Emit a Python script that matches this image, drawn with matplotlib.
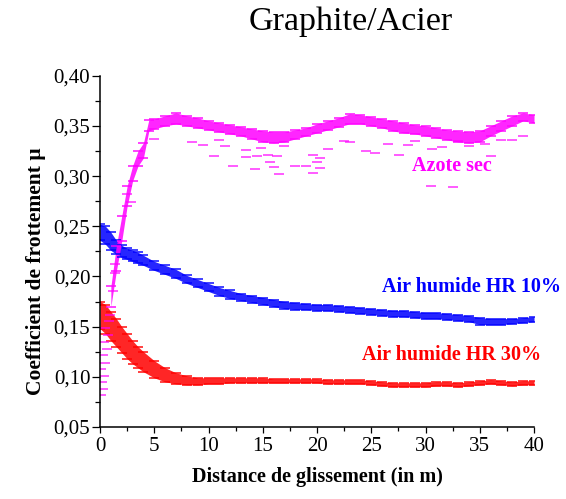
import numpy as np
import matplotlib
matplotlib.use("Agg")
import matplotlib.pyplot as plt
from matplotlib.ticker import MultipleLocator

plt.rcParams['font.family'] = ['Liberation Serif', 'DejaVu Serif']

# Distance de glissement (m) pour les courbes bleue et rouge
dist = [0, 0.5, 1, 1.5, 2, 2.5, 3, 3.5, 4, 5, 6, 7, 8, 9, 10, 11, 12, 13, 14, 15,
        16, 17, 18, 19, 20, 21, 22, 23, 24, 25, 26, 27, 28, 29, 30, 31, 32, 33,
        34, 35, 36, 37, 38, 39, 40]

# Air humide HR 10% : bornes basse / haute de la bande de mesure
hr10_bas = [0.236, 0.232, 0.226, 0.222, 0.219, 0.217, 0.215, 0.213, 0.211, 0.206,
            0.202, 0.198, 0.193, 0.189, 0.185, 0.181, 0.178, 0.176, 0.174, 0.172,
            0.170, 0.168, 0.167, 0.167, 0.166, 0.166, 0.165, 0.164, 0.163, 0.162,
            0.161, 0.160, 0.160, 0.159, 0.158, 0.158, 0.157, 0.156, 0.155, 0.152,
            0.152, 0.152, 0.153, 0.154, 0.155]
hr10_haut = [0.252, 0.250, 0.244, 0.236, 0.231, 0.228, 0.226, 0.224, 0.221, 0.215,
             0.211, 0.207, 0.201, 0.197, 0.193, 0.189, 0.186, 0.183, 0.181, 0.179,
             0.177, 0.175, 0.174, 0.173, 0.172, 0.172, 0.171, 0.170, 0.169, 0.168,
             0.167, 0.166, 0.166, 0.165, 0.164, 0.164, 0.163, 0.162, 0.161, 0.159,
             0.158, 0.158, 0.158, 0.159, 0.160]

# Air humide HR 30%
hr30_bas = [0.148, 0.143, 0.136, 0.130, 0.124, 0.118, 0.113, 0.109, 0.105, 0.099,
            0.095, 0.093, 0.092, 0.092, 0.093, 0.093, 0.094, 0.094, 0.094, 0.094,
            0.094, 0.094, 0.094, 0.094, 0.094, 0.093, 0.093, 0.093, 0.093, 0.092,
            0.091, 0.090, 0.090, 0.090, 0.090, 0.091, 0.091, 0.090, 0.091, 0.092,
            0.093, 0.092, 0.091, 0.092, 0.092]
hr30_haut = [0.175, 0.172, 0.165, 0.158, 0.150, 0.143, 0.136, 0.130, 0.125, 0.116,
             0.109, 0.104, 0.101, 0.099, 0.099, 0.099, 0.099, 0.099, 0.099, 0.099,
             0.098, 0.098, 0.098, 0.098, 0.098, 0.097, 0.097, 0.097, 0.097, 0.096,
             0.095, 0.094, 0.094, 0.094, 0.094, 0.095, 0.095, 0.094, 0.095, 0.096,
             0.097, 0.096, 0.095, 0.096, 0.096]

# Azote sec : bande principale
dist_az = [1, 1.5, 2, 2.5, 3, 3.5, 4, 4.5, 5, 6, 7, 8, 9, 10, 11, 12, 13, 14, 15,
           16, 17, 18, 19, 20, 21, 22, 23, 24, 25, 26, 27, 28, 29, 30, 31, 32, 33,
           34, 35, 36, 37, 38, 39, 40]
azote_bas = [0.170, 0.205, 0.235, 0.270, 0.295, 0.310, 0.318, 0.345, 0.347, 0.350,
             0.352, 0.350, 0.348, 0.346, 0.344, 0.342, 0.340, 0.337, 0.334, 0.333,
             0.334, 0.337, 0.340, 0.343, 0.346, 0.349, 0.352, 0.352, 0.350, 0.348,
             0.345, 0.343, 0.342, 0.340, 0.338, 0.336, 0.334, 0.333, 0.334, 0.340,
             0.345, 0.350, 0.355, 0.353]
azote_haut = [0.190, 0.230, 0.260, 0.290, 0.310, 0.325, 0.333, 0.356, 0.357, 0.360,
              0.363, 0.360, 0.358, 0.355, 0.353, 0.351, 0.349, 0.347, 0.345, 0.344,
              0.344, 0.346, 0.348, 0.352, 0.355, 0.358, 0.362, 0.361, 0.359, 0.357,
              0.355, 0.353, 0.351, 0.350, 0.348, 0.346, 0.345, 0.344, 0.345, 0.350,
              0.355, 0.360, 0.363, 0.361]

# Azote sec : points isoles (debut d'essai et valeurs basses)
azote_pts_x = [0.1, 0.3, 0.2, 0.4, 0.1, 0.5, 0.3, 0.6, 0.4, 0.7, 0.5, 0.8, 0.9,
               1.2, 1.4, 1.4, 2.5, 2.9, 5.0, 8.5, 9.5, 10.5, 11.0, 11.5, 12.3,
               13.5, 13.5, 14.3, 14.5, 14.8, 15.5, 15.7, 16.0, 16.3, 16.5, 17.0,
               18.0, 19.0, 19.6, 19.6, 20.0, 20.3, 20.3, 21.0, 22.5, 23.0, 24.5,
               25.3, 26.5, 27.6, 28.4, 29.0, 30.5, 30.6, 31.5, 32.5, 33.0, 34.0,
               35.5, 36.0, 37.0, 38.0, 39.0]
azote_pts_y = [0.082, 0.088, 0.095, 0.101, 0.108, 0.114, 0.122, 0.128, 0.135,
               0.142, 0.149, 0.156, 0.162, 0.185, 0.212, 0.203, 0.282, 0.274,
               0.337, 0.334, 0.331, 0.320, 0.336, 0.330, 0.310, 0.326, 0.319,
               0.307, 0.320, 0.328, 0.321, 0.314, 0.309, 0.320, 0.302, 0.330,
               0.310, 0.310, 0.303, 0.321, 0.314, 0.308, 0.318, 0.327, 0.335,
               0.334, 0.325, 0.323, 0.332, 0.321, 0.331, 0.335, 0.290, 0.327,
               0.329, 0.289, 0.335, 0.330, 0.332, 0.320, 0.336, 0.336, 0.340]

yticks = [0.05, 0.10, 0.15, 0.20, 0.25, 0.30, 0.35, 0.40]
ytick_labels = ['0,05', '0,10', '0,15', '0,20', '0,25', '0,30', '0,35', '0,40']
xticks = [0, 5, 10, 15, 20, 25, 30, 35, 40]

BLEU = '#0000ff'
ROUGE = '#ff0000'
MAGENTA = '#ff00ff'

fig = plt.figure(figsize=(5.66, 4.99), dpi=100)
ax = fig.add_axes([0.1767, 0.1443, 0.7668, 0.704])


def bande(x, bas, haut, couleur):
    # bande pleine + petits tirets sur les bords
    ax.fill_between(x, bas, haut, color=couleur, alpha=0.85, lw=0)
    for y in (bas, haut):
        ax.plot(x, y, ls='none', marker='_', ms=7, mew=1.3, color=couleur, alpha=0.8)


bande(dist, hr10_bas, hr10_haut, BLEU)
bande(dist, hr30_bas, hr30_haut, ROUGE)
bande(dist_az, azote_bas, azote_haut, MAGENTA)
ax.plot(azote_pts_x, azote_pts_y, ls='none', marker='_', ms=7, mew=1.2,
        color=MAGENTA, alpha=0.75)

ax.set_xlim(0, 40)
ax.set_ylim(0.05, 0.40)
ax.set_xticks(xticks)
ax.set_yticks(yticks)
ax.set_yticklabels(ytick_labels)
ax.xaxis.set_minor_locator(MultipleLocator(2.5))
ax.yaxis.set_minor_locator(MultipleLocator(0.025))

for s in ('top', 'right'):
    ax.spines[s].set_visible(False)
for s in ('left', 'bottom'):
    ax.spines[s].set_linewidth(1.1)

ax.tick_params(axis='x', which='major', direction='out', length=4.5, width=0.9,
               labelsize=15, pad=3)
ax.tick_params(axis='x', which='minor', direction='out', length=3, width=0.9)
ax.tick_params(axis='y', which='major', direction='out', length=5.5, width=0.9,
               labelsize=15, pad=1.5)
ax.tick_params(axis='y', which='minor', direction='out', length=3.5, width=0.9)

ax.set_xlabel('Distance de glissement (in m)', fontsize=14.5, fontweight='bold')
ax.set_ylabel('Coefficient de frottement µ', fontsize=15.5, fontweight='bold')
ax.xaxis.set_label_coords(0.5, -0.114)
ax.yaxis.set_label_coords(-0.125, 0.444)

ax.text(32.4, 0.310, 'Azote sec', color=MAGENTA, fontsize=14.5,
        fontweight='bold', ha='center', va='center')
ax.text(34.2, 0.189, 'Air humide HR 10%', color=BLEU, fontsize=14.5,
        fontweight='bold', ha='center', va='center')
ax.text(32.4, 0.1217, 'Air humide HR 30%', color=ROUGE, fontsize=14.5,
        fontweight='bold', ha='center', va='center')

fig.text(0.62, 1 - 30 / 499, 'Graphite/Acier', fontsize=24.5, ha='center',
         va='baseline')

fig.savefig('out.png', dpi=100)
